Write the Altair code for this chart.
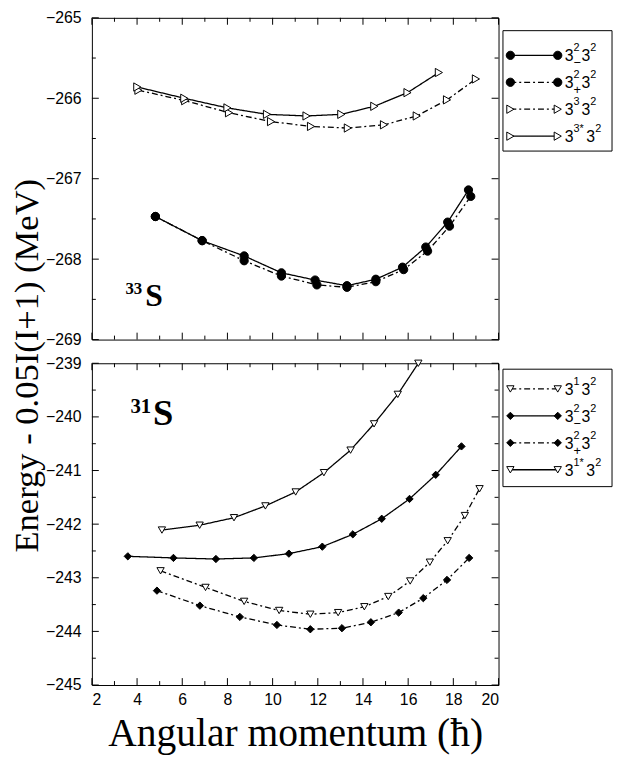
import altair as alt
import pandas as pd

SANS = "Liberation Sans"
SERIF = "Liberation Serif"

# ---------------- data ----------------
# 33S panel
t_m_x = [4.81, 6.88, 8.74, 10.39, 11.88, 13.29, 14.57, 15.75, 16.78, 17.75, 18.67]
t_m_y = [-267.47, -267.77, -267.96, -268.17, -268.26, -268.33, -268.25, -268.10, -267.85, -267.54, -267.14]
t_p_x = [4.81, 6.88, 8.74, 10.39, 11.96, 13.29, 14.57, 15.80, 16.86, 17.83, 18.77]
t_p_y = [-267.47, -267.77, -268.02, -268.21, -268.32, -268.35, -268.28, -268.13, -267.90, -267.59, -267.22]
t_3_x = [4.06, 6.13, 8.07, 9.93, 11.70, 13.33, 14.93, 16.38, 17.72, 19.00]
t_3_y = [-265.90, -266.03, -266.18, -266.29, -266.35, -266.37, -266.33, -266.22, -266.02, -265.76]
t_3s_x = [4.01, 6.09, 8.00, 9.75, 11.50, 13.04, 14.50, 15.97, 17.36]
t_3s_y = [-265.86, -266.00, -266.12, -266.20, -266.22, -266.20, -266.10, -265.93, -265.68]

# 31S panel
b_1_x = [5.04, 7.03, 8.74, 10.29, 11.67, 12.90, 14.06, 15.12, 16.09, 16.96, 17.75, 18.51, 19.16]
b_1_y = [-242.87, -243.18, -243.44, -243.61, -243.68, -243.65, -243.54, -243.35, -243.06, -242.71, -242.31, -241.84, -241.34]
b_m_x = [3.59, 5.61, 7.49, 9.17, 10.72, 12.20, 13.55, 14.83, 16.06, 17.22, 18.36]
b_m_y = [-242.60, -242.63, -242.65, -242.63, -242.55, -242.42, -242.19, -241.90, -241.53, -241.08, -240.55]
b_p_x = [4.88, 6.78, 8.55, 10.19, 11.67, 13.07, 14.35, 15.58, 16.67, 17.72, 18.70]
b_p_y = [-243.24, -243.52, -243.73, -243.88, -243.96, -243.94, -243.83, -243.65, -243.38, -243.04, -242.63]
b_1s_x = [5.10, 6.77, 8.29, 9.68, 11.02, 12.27, 13.45, 14.49, 15.54, 16.45]
b_1s_y = [-242.11, -242.02, -241.88, -241.66, -241.40, -241.04, -240.62, -240.13, -239.58, -239.00]

# legend entries (superscript / subscript parts)
top_keys = ["m", "p", "t3", "t3s"]
top_sup1 = ["2", "2", "3", "3*"]
top_sub1 = ["\u2212", "+", "", ""]
bot_keys = ["b1", "bm", "bp", "b1s"]
bot_sup1 = ["1", "2", "2", "1*"]
bot_sub1 = ["", "\u2212", "+", ""]

# axes ticks
x_major = [2, 4, 6, 8, 10, 12, 14, 16, 18, 20]
x_minor = [3, 5, 7, 9, 11, 13, 15, 17, 19]
top_y_major = [-265, -266, -267, -268, -269]
top_y_minor = [-265.5, -266.5, -267.5, -268.5]
bot_y_major = [-239, -240, -241, -242, -243, -244, -245]
bot_y_minor = [-239.5, -240.5, -241.5, -242.5, -243.5, -244.5]

W, H = 412, 326
SOLID = [1, 0]
DD = [6, 3, 2, 3]

# one shared style table for all eight series
ALL_KEYS = top_keys + bot_keys
ALL_DASH = [SOLID, DD, DD, SOLID, DD, SOLID, DD, SOLID]
ALL_SHAPES = ["circle", "circle", "triangle-right", "triangle-right",
              "triangle-down", "diamond", "diamond", "triangle-down"]
ALL_FILLS = ["black", "black", "white", "white", "white", "black", "black", "white"]

DASH = alt.StrokeDash("key:N", scale=alt.Scale(domain=ALL_KEYS, range=ALL_DASH), legend=None)
SHP = alt.Shape("key:N", scale=alt.Scale(domain=ALL_KEYS, range=ALL_SHAPES), legend=None)
FIL = alt.Fill("key:N", scale=alt.Scale(domain=ALL_KEYS, range=ALL_FILLS), legend=None)


def frame(series):
    rows = []
    for key, xs, ys in series:
        for x, y in zip(xs, ys):
            rows.append({"key": key, "x": x, "y": y})
    return pd.DataFrame(rows)


top_df = frame([("m", t_m_x, t_m_y), ("p", t_p_x, t_p_y),
                ("t3", t_3_x, t_3_y), ("t3s", t_3s_x, t_3s_y)])
bot_df = frame([("b1", b_1_x, b_1_y), ("bm", b_m_x, b_m_y),
                ("bp", b_p_x, b_p_y), ("b1s", b_1s_x, b_1s_y)])


def panel(df, size, ydom, ymaj, ymin, show_x, tag):
    xsc = alt.Scale(domain=[2, 20], nice=False, zero=False)
    ysc = alt.Scale(domain=ydom, nice=False, zero=False)
    if show_x:
        xax = alt.Axis(values=x_major, format="d", ticks=False, domain=False, grid=False,
                       labelFont=SANS, labelFontSize=16, labelPadding=7, labelColor="black",
                       title="Angular momentum (\u0127)", titleFont=SERIF, titleFontSize=40,
                       titleFontWeight="normal", titlePadding=6, titleColor="black")
    else:
        xax = None
    yax = alt.Axis(values=ymaj, format="d", ticks=False, domain=False, grid=False,
                   labelFont=SANS, labelFontSize=16, labelPadding=11, labelColor="black",
                   title=None)

    X = alt.X("x:Q", scale=xsc, axis=xax)
    Y = alt.Y("y:Q", scale=ysc, axis=yax)
    base = alt.Chart(df)
    lines = base.mark_line(strokeWidth=1.3, color="black").encode(
        x=X, y=Y, detail="key:N", strokeDash=DASH)
    pts = base.mark_point(filled=True, stroke="black", strokeWidth=1, opacity=1, size=size).encode(
        x=X, y=Y, shape=SHP, fill=FIL)

    layers = [lines, pts]
    ymaj_df = pd.DataFrame({"v": ymaj})
    ymin_df = pd.DataFrame({"v": ymin})
    xmaj_df = pd.DataFrame({"x": x_major})
    xmin_df = pd.DataFrame({"x": x_minor})
    for d, L in [(ymaj_df, 7), (ymin_df, 4)]:
        layers.append(alt.Chart(d).mark_rule(color="black", strokeWidth=1).encode(
            y=alt.Y("v:Q", scale=ysc, axis=yax), x=alt.value(0), x2=alt.value(L)))
        layers.append(alt.Chart(d).mark_rule(color="black", strokeWidth=1).encode(
            y=alt.Y("v:Q", scale=ysc, axis=yax), x=alt.value(W), x2=alt.value(W - L)))
    for d, L in [(xmaj_df, 7), (xmin_df, 4)]:
        layers.append(alt.Chart(d).mark_rule(color="black", strokeWidth=1).encode(
            x=X, y=alt.value(0), y2=alt.value(L)))
        layers.append(alt.Chart(d).mark_rule(color="black", strokeWidth=1).encode(
            x=X, y=alt.value(H), y2=alt.value(H - L)))

    one = pd.DataFrame({"a": [0]})
    mass, sx, sy, ssize, mx, my, msize = tag
    layers.append(alt.Chart(one).mark_text(font=SERIF, fontWeight="bold", fontSize=ssize,
                                           align="left", baseline="alphabetic", color="black").encode(
        x=alt.value(sx), y=alt.value(sy), text=alt.value("S")))
    layers.append(alt.Chart(one).mark_text(font=SERIF, fontWeight="bold", fontSize=msize,
                                           align="right", baseline="alphabetic", color="black").encode(
        x=alt.value(mx), y=alt.value(my), text=alt.value(mass)))
    return alt.layer(*layers).properties(width=W, height=H)


def legend(keys, sup1, sub1, size, box_top, box_bot, y0, step):
    ldf = pd.DataFrame({"key": keys, "idx": list(range(len(keys))), "sup1": sup1, "sub1": sub1})
    Yl = alt.Y("ry:Q", scale=None, axis=None)
    one = pd.DataFrame({"a": [0]})
    box = alt.Chart(one).mark_rect(fill="white", stroke="black", strokeWidth=1).encode(
        x=alt.value(0.5), x2=alt.value(111), y=alt.value(box_top), y2=alt.value(box_bot))
    b = alt.Chart(ldf).transform_calculate(
        ry=f"{y0} + {step}*datum.idx",
        bx="80 + 5*(length(datum.sup1)-1)",
        bx2="89 + 5*(length(datum.sup1)-1)")
    rule = b.mark_rule(color="black", strokeWidth=1.3).encode(
        y=Yl, x=alt.value(8), x2=alt.value(56), strokeDash=DASH)
    p1 = b.mark_point(filled=True, stroke="black", strokeWidth=1, opacity=1, size=size).encode(
        y=Yl, x=alt.value(8), shape=SHP, fill=FIL)
    p2 = b.mark_point(filled=True, stroke="black", strokeWidth=1, opacity=1, size=size).encode(
        y=Yl, x=alt.value(56), shape=SHP, fill=FIL)
    tb = dict(font=SANS, color="black", align="left", baseline="alphabetic")
    t1 = b.mark_text(fontSize=16, dy=6, **tb).encode(y=Yl, x=alt.value(63), text=alt.value("3"))
    t2 = b.mark_text(fontSize=11, dy=-4, **tb).encode(y=Yl, x=alt.value(72), text="sup1:N")
    t3 = b.mark_text(fontSize=13, dy=12, **tb).encode(y=Yl, x=alt.value(72), text="sub1:N")
    t4 = b.mark_text(fontSize=16, dy=6, **tb).encode(
        y=Yl, x=alt.X("bx:Q", scale=None), text=alt.value("3"))
    t5 = b.mark_text(fontSize=11, dy=-4, **tb).encode(
        y=Yl, x=alt.X("bx2:Q", scale=None), text=alt.value("2"))
    return alt.layer(box, rule, p1, p2, t1, t2, t3, t4, t5).properties(
        width=112, height=H, view=alt.ViewBackground(stroke="transparent"))


top = panel(top_df, 70, [-269, -265], top_y_major, top_y_minor, False,
            ("33", 54, 292, 32, 51, 280, 17))
bot = panel(bot_df, 55, [-245, -239], bot_y_major, bot_y_minor, True,
            ("31", 62, 63, 37, 60, 50, 21))

leg_top = legend(top_keys, top_sup1, top_sub1, 70, 13, 135, 38, 27.3)
leg_bot = legend(bot_keys, bot_sup1, bot_sub1, 55, 6, 125, 26, 27.3)

row1 = alt.hconcat(top, leg_top, spacing=4, bounds="flush")
row2 = alt.hconcat(bot, leg_bot, spacing=4, bounds="flush")
chart = alt.vconcat(row1, row2, spacing=6).properties(
    padding={"left": 2, "top": -4, "right": 0, "bottom": 0},
    background="white",
    title=alt.TitleParams(text="Energy - 0.05I(I+1) (MeV)", orient="left", anchor="middle",
                          font=SERIF, fontSize=35, fontWeight="normal", color="black",
                          offset=0, dx=16),
).configure_view(stroke="black", strokeWidth=1)

chart.save("out.html", embed_options={"renderer": "svg", "actions": False})
